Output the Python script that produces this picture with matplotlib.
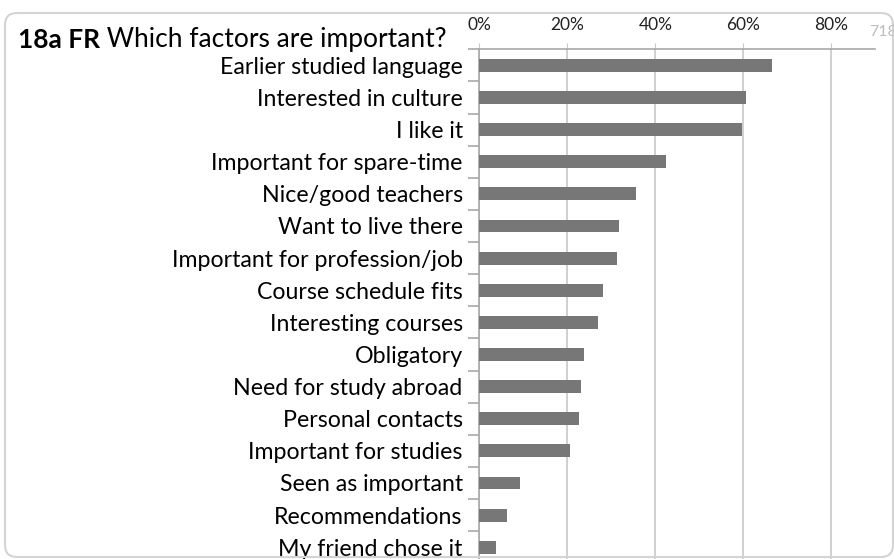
import matplotlib
matplotlib.use("Agg")
import matplotlib.pyplot as plt
from matplotlib.patches import FancyBboxPatch
from matplotlib.transforms import IdentityTransform

plt.rcParams['font.family'] = ['Lato', 'DejaVu Sans']

factors = [
    "Earlier studied language",
    "Interested in culture",
    "I like it",
    "Important for spare-time",
    "Nice/good teachers",
    "Want to live there",
    "Important for profession/job",
    "Course schedule fits",
    "Interesting courses",
    "Obligatory",
    "Need for study abroad",
    "Personal contacts",
    "Important for studies",
    "Seen as important",
    "Recommendations",
    "My friend chose it",
]
shares = [66.6, 60.5, 59.6, 42.4, 35.5, 31.8, 31.4, 28.1, 27.0, 23.7, 23.2, 22.6, 20.5, 9.2, 6.3, 3.7]
pct_ticks = [0, 20, 40, 60, 80]
n_resp = "718"

W, H = 895, 559
fig = plt.figure(figsize=(W / 100, H / 100), dpi=100)

# axes placed in pixel terms: x=0 at 479px, 90% at 875px, top at 49px
x0, x1, ytop, ybot = 479.3, 875.3, 49.3, 563.3
ax = fig.add_axes([x0 / W, (H - ybot) / H, (x1 - x0) / W, (ybot - ytop) / H])

pos = list(range(len(factors)))
ax.barh(pos, shares, height=0.4, color="#777777", zorder=3)
ax.set_xlim(0, 90)
ax.set_ylim(len(factors) - 0.5, -0.5)

grid_c = "#c8c8c8"
axis_c = "#a8a8a8"
ax.set_xticks(pct_ticks)
ax.set_xticklabels([f"{t}%" for t in pct_ticks], fontsize=12.5)
ax.xaxis.tick_top()
ax.grid(axis="x", color=grid_c, lw=1.2, zorder=0)
ax.tick_params(axis="x", which="major", length=4, color=grid_c, pad=8, labelcolor="#222222")

ax.set_yticks(pos)
ax.set_yticklabels(factors, fontsize=16.7)
ax.set_yticks([p + 0.5 for p in pos[:-1]] + [-0.5], minor=True)
ax.tick_params(axis="y", which="major", length=0, pad=12)
ax.tick_params(axis="y", which="minor", length=8, color=axis_c, width=1.2)

for s in ("right", "bottom"):
    ax.spines[s].set_visible(False)
for s in ("top", "left"):
    ax.spines[s].set_color(axis_c)
    ax.spines[s].set_linewidth(1.2)

# title: bold lead followed by plain question
t1 = fig.text(18 / W, (H - 40) / H, "18a FR", fontsize=19, fontweight="bold", va="center")
fig.canvas.draw()
bb = t1.get_window_extent()
fig.text(bb.x1, (H - 40), " Which factors are important?", fontsize=19,
         va="center", transform=IdentityTransform())

fig.text(869 / W, (H - 32) / H, n_resp, fontsize=11.5, color="#bdbdbd", va="center")

frame = FancyBboxPatch((5, 2), 888, 544, boxstyle="round,pad=0,rounding_size=12",
                       transform=IdentityTransform(), fill=False,
                       edgecolor="#d4d4d4", lw=1.5)
fig.patches.append(frame)

fig.savefig("out.png", dpi=100)
